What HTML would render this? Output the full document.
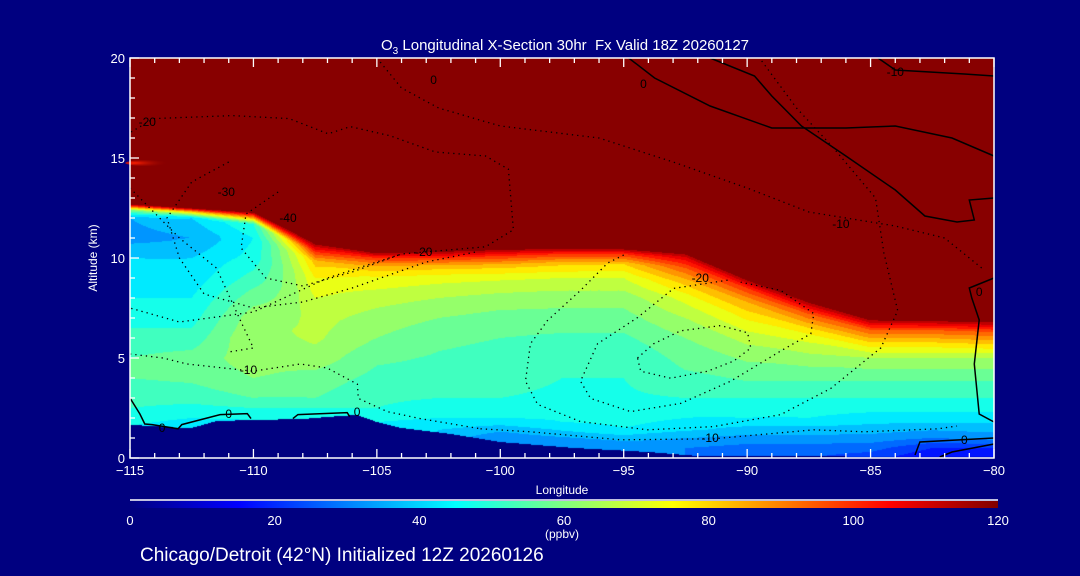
<!DOCTYPE html>
<html><head><meta charset="utf-8"><style>
html,body{margin:0;padding:0;background:#000080;width:1080px;height:576px;overflow:hidden}
#wrap{position:relative;width:1080px;height:576px}
canvas{position:absolute;left:130px;top:58px}
svg{position:absolute;left:0;top:0}
text{font-family:"Liberation Sans",sans-serif;fill:#fff}
</style></head><body>
<div id="wrap">
<canvas id="field" width="864" height="400"></canvas>
<svg id="ov" width="1080" height="576">
<defs><linearGradient id="cb" x1="0" x2="1" y1="0" y2="0"></linearGradient>
<radialGradient id="streak" cx="0.2" cy="0.5" r="0.8"><stop offset="0" stop-color="#ff2000"/><stop offset="1" stop-color="#880000" stop-opacity="0"/></radialGradient></defs>
<text x="565" y="50" font-size="15" text-anchor="middle">O<tspan font-size="10" dy="4">3</tspan><tspan dy="-4"> Longitudinal X-Section 30hr&#160; Fx Valid 18Z 20260127</tspan></text>
<text transform="translate(97,258) rotate(-90)" font-size="12" text-anchor="middle">Altitude (km)</text>
<text x="562" y="494" font-size="12" text-anchor="middle">Longitude</text>
<text x="562" y="538" font-size="12" text-anchor="middle">(ppbv)</text>
<text x="140" y="561" font-size="19">Chicago/Detroit (42°N) Initialized 12Z 20260126</text>
<g id="g"></g>
</svg>
</div>
<script>
// ===== data =====
const colLons = [-115,-112.5,-110,-107.5,-105,-102.5,-100,-97.5,-95,-92.5,-90,-87.5,-85,-82.5,-80];
const tropAlt = [12.7,12.5,12.3,10.8,10.3,10.4,10.5,10.55,10.5,10.3,9.0,7.9,7.0,6.95,6.9];
const prof0 = [[0,45],[1.6,45],[2,48],[3,52],[4,55],[5,55],[6,52],[7,48],[8,45],[9,42],[10,40],[11,33],[12,35],[12.4,60],[12.7,120]];
const prof1 = [[0,40],[1.5,40],[2,45],[3,52],[4,56],[5,57],[6,52],[7,48],[8,45],[9,42],[10,40],[11,35],[12,40],[12.3,80],[12.5,120]];
const prof2 = [[0,45],[1.9,45],[2.5,50],[3,55],[4,60],[5,63],[6,65],[7,63],[8,58],[9,52],[10,47],[11,45],[11.7,50],[12,85],[12.3,120]];
const prof3 = [[0,45],[2,45],[2.5,50],[3,55],[4,58],[5,63],[6,66],[7,67],[8,70],[9,75],[9.8,82],[10.3,100],[10.8,120]];
const prof4 = [[0,45],[1.8,45],[2.5,50],[3.5,52],[5,56],[6,60],[7,63],[8,67],[9,74],[9.6,85],[10,100],[10.3,120]];
const prof5 = [[0,38],[1.4,40],[2,45],[3,50],[4,53],[6,56],[7,60],[8,65],[9,72],[9.6,83],[10,100],[10.4,120]];
const prof6 = [[0,30],[1,30],[1.5,38],[2,45],[3,50],[4,52],[6,55],[7,58],[8,63],[9,71],[9.6,82],[10.1,100],[10.5,120]];
const prof7 = [[0,30],[0.8,30],[1.2,38],[1.8,45],[3,49],[4,50],[6,54],[7,58],[8,62],[9,70],[9.7,81],[10.2,100],[10.55,120]];
const prof8 = [[0,30],[0.6,30],[1,38],[1.5,45],[2.5,49],[4,50],[5,50],[6,54],[7,58],[8,62],[9,70],[9.7,80],[10.2,100],[10.5,120]];
const prof9 = [[0,30],[0.5,30],[1,35],[1.5,42],[2.5,48],[3.5,52],[5,57],[6,60],[7,65],[8,72],[8.8,82],[9.5,95],[10,108],[10.3,120]];
const prof10 = [[0,25],[0.5,28],[1,33],[2,45],[3,50],[4,56],[5,61],[6,67],[7,76],[7.8,85],[8.5,100],[9.0,120]];
const prof11 = [[0,25],[0.5,28],[1,33],[2,45],[3,50],[4,56],[5,63],[6,72],[6.5,80],[7.2,95],[7.9,120]];
const prof12 = [[0,22],[0.5,27],[1,33],[2,43],[3,50],[4,56],[5,65],[5.7,78],[6.4,95],[7.0,120]];
const prof13 = [[0,15],[0.5,20],[1,30],[2,43],[3,50],[4,56],[5,65],[5.7,78],[6.4,95],[6.95,120]];
const prof14 = [[0,15],[0.5,20],[1,32],[2,43],[3,50],[4,56],[5,65],[5.6,78],[6.3,95],[6.9,120]];
const profiles = [prof0,prof1,prof2,prof3,prof4,prof5,prof6,prof7,prof8,prof9,prof10,prof11,prof12,prof13,prof14];
const terrainLons = [-115,-114,-113,-112.5,-111.5,-110,-108,-106.5,-105.8,-105,-104,-102,-100,-97,-94,-92,-80];
const terrainAlt  = [1.65,1.6,1.5,1.5,1.85,1.9,1.95,2.1,2.15,1.8,1.5,1.2,0.8,0.5,0.3,0.1,0.05];
const xTicks = [-115,-110,-105,-100,-95,-90,-85,-80];
const yTicks = [0,5,10,15,20];
const cbTicks = [0,20,40,60,80,100,120];
// contours (lon, alt)
const cSolidA = [[-94.8,20],[-93.75,19.0],[-91.5,17.6],[-89.0,16.5],[-86.0,16.5],[-84.0,16.6],[-81.7,16.0],[-80,15.1]];
const cSolidB = [[-91.5,20],[-89.7,19.1],[-89.0,18.1],[-87.8,16.6],[-86.0,15.1],[-84.0,13.4],[-82.8,12.1],[-81.5,11.8],[-80.8,11.9],[-81.0,12.9],[-80,13.0]];
const cSolidC = [[-84.7,20],[-84.0,19.4],[-81.2,19.2],[-80,19.1]];
const cSolidD = [[-80,9.0],[-81.0,8.5],[-80.9,8.0],[-80.6,6.9],[-80.8,4.7],[-80.6,2.2],[-80,1.8]];
const cSolidE = [[-80,1.0],[-83.0,0.8],[-83.2,0.15]];
const cSolidF = [[-80,0.7],[-81.7,0.3],[-82.2,0.05]];
const cSolidG = [[-115,3.0],[-114.6,2.2],[-114.4,1.7],[-114.1,1.67],[-113.05,1.46],[-112.9,1.67],[-111.35,2.17],[-110.25,2.22],[-110.1,1.97]];
const cSolidH = [[-108.4,1.97],[-108.2,2.17],[-106.2,2.27],[-106.1,2.07]];
const cDotInner = [[-94.44,5.0],[-93.79,5.71],[-92.69,6.36],[-91.07,6.62],[-89.98,6.26],[-89.85,5.5],[-90.54,4.85],[-91.6,4.34],[-93.1,3.99],[-94.31,4.34],[-94.44,5.0]];
const cDotMid = [[-90.79,8.89],[-92.98,8.48],[-94.44,7.02],[-96.06,5.71],[-96.75,3.84],[-96.34,2.98],[-94.72,2.32],[-92.69,2.73],[-90.67,3.84],[-88.64,5.35],[-87.42,6.21],[-87.3,7.22],[-88.64,8.38],[-90.26,8.79]];
const cDotOuter = [[-95.0,10.15],[-95.65,9.75],[-96.75,8.38],[-98.09,6.87],[-98.78,5.71],[-98.98,3.84],[-98.49,2.68],[-96.75,1.82],[-94.03,1.41],[-91.36,1.57],[-88.64,2.17],[-86.61,3.48],[-84.58,5.51],[-83.9,7.37],[-84.46,10.25],[-84.8,13],[-86.5,15.5],[-88,17.5],[-89.5,20]];
const cDotLow = [[-100.8,1.46],[-98.78,1.31],[-95.13,0.91],[-91.36,0.96],[-87.3,1.41],[-85.27,1.31],[-82.27,1.46],[-81.5,1.6]];
const cDotLeft = [[-115,5.2],[-113.66,5.0],[-112.69,4.7],[-110.01,4.34],[-108.1,4.7],[-107.01,4.5],[-105.79,3.69],[-105.75,2.98],[-104.58,2.32],[-103.24,1.97],[-100.8,1.46]];
const cDotUpper = [[-114.96,16.3],[-114.03,16.97],[-110.86,17.12],[-108.55,16.97],[-106.97,16.21],[-106.08,16.57],[-104.46,16.11],[-102.63,15.3],[-100.6,15.1],[-99.67,14.44],[-99.47,11.41],[-100.6,10.56],[-104,10.2],[-107,9.0],[-110,7.3],[-113,6.8],[-115,7.5]];
const cDotTop = [[-105,20],[-104,18.5],[-102.5,17.5],[-100,16.6],[-96,16.0],[-93,14.8],[-90,13.5],[-87.5,12.3],[-84,11.6],[-82,11.0],[-80.5,9.5]];
const cDotW1 = [[-111,14.8],[-112.5,13.8],[-113.5,12],[-113,10],[-112,8.2],[-110,7.5],[-108,7.8],[-106,8.5],[-103,9.8],[-101,10.3]];
const cDotW2 = [[-109,13.3],[-110.3,12.2],[-110.5,10.5],[-109.5,9],[-108,8.6],[-106,9.3],[-104,10.2]];
const cDotW3 = [[-115,13.5],[-113.8,12],[-113,11],[-111.5,9.5],[-110.5,6.8],[-110,5.5],[-111,5.3]];
const contourLabels = [["0",-94.2,18.7],["-10",-84,19.3],["-10",-86.2,11.7],["-10",-91.5,1.0],["-10",-110.2,4.4],["-20",-91.9,9.0],["-20",-103.1,10.3],["-20",-114.3,16.8],["-30",-111.1,13.3],["-40",-108.6,12.0],["0",-113.7,1.5],["0",-111.0,2.2],["0",-105.8,2.3],["0",-81.2,0.9],["0",-80.6,8.3],["0",-102.7,18.9]];

// ===== scales =====
const X0=130,X1=994,Y0=458,PX=20;
function xs(lon){return X0+(lon+115)/35*(X1-X0);}
function ys(a){return Y0-a*PX;}
function jet(v){const t=Math.max(0,Math.min(1,v/120));const c=x=>Math.round(255*Math.max(0,Math.min(1,x)));
 return [c(1.5-Math.abs(4*t-3)),c(1.5-Math.abs(4*t-2)),c(1.5-Math.abs(4*t-1))];}
function interp1(xa,ya,x){if(x<=xa[0])return ya[0];for(let i=1;i<xa.length;i++){if(x<=xa[i]){const f=(x-xa[i-1])/(xa[i]-xa[i-1]);return ya[i-1]+f*(ya[i]-ya[i-1]);}}return ya[ya.length-1];}
function prof(k,a){if(a<=k[0][0])return k[0][1];for(let i=1;i<k.length;i++){if(a<=k[i][0]){const f=(a-k[i-1][0])/(k[i][0]-k[i-1][0]);return k[i-1][1]+f*(k[i][1]-k[i-1][1]);}}return 120;}

// ===== field =====
const cv=document.getElementById('field'),ctx=cv.getContext('2d');
const W=cv.width,H=cv.height,img=ctx.createImageData(W,H);
for(let px=0;px<W;px++){
 const lon=-115+(px+0.5)/W*35;
 let i=Math.min(colLons.length-2,Math.floor((lon+115)/2.5));const f=(lon-colLons[i])/(colLons[i+1]-colLons[i]);
 const tr=tropAlt[i]*(1-f)+tropAlt[i+1]*f;
 const ter=interp1(terrainLons,terrainAlt,lon);
 for(let py=0;py<H;py++){
  const a=(H-py-0.5)/PX;let col;
  if(a<ter){col=[0,0,128];}
  else{const s=a/tr;let v=(1-f)*prof(profiles[i],s*tropAlt[i])+f*prof(profiles[i+1],s*tropAlt[i+1]);
   v=Math.min(120,Math.floor(v/5)*5+2.5);col=jet(v);if(v>=117)col=[136,0,0];}
  const o=(py*W+px)*4;img.data[o]=col[0];img.data[o+1]=col[1];img.data[o+2]=col[2];img.data[o+3]=255;}
}
ctx.putImageData(img,0,0);

// ===== overlay =====
const NS='http://www.w3.org/2000/svg',g=document.getElementById('g');
function mk(tag,at,parent){const e=document.createElementNS(NS,tag);for(const k in at)e.setAttribute(k,at[k]);(parent||g).appendChild(e);return e;}
const st=mk('ellipse',{cx:xs(-114.3),cy:ys(14.75),rx:22,ry:3,fill:'url(#streak)'});


function line(pts,dotted,name){const d=pts.map((p,j)=>(j?'L':'M')+xs(p[0]).toFixed(1)+' '+ys(p[1]).toFixed(1)).join(' ');
 const e=mk('path',{d:d,fill:'none',stroke:'#000','stroke-width':dotted?1.3:1.5,'stroke-dasharray':dotted?'1.3 4':'none'});
 
 }
[[cSolidA,'a'],[cSolidB,'b'],[cSolidC,'c'],[cSolidD,'d'],[cSolidE,'e'],[cSolidF,'f'],[cSolidG,'g'],[cSolidH,'h']].forEach(c=>line(c[0],false,'solid-contour-'+c[1]));
[[cDotInner,'inner'],[cDotMid,'mid'],[cDotOuter,'outer'],[cDotLow,'low'],[cDotLeft,'left'],[cDotUpper,'upper'],[cDotTop,'top'],[cDotW1,'w1'],[cDotW2,'w2'],[cDotW3,'w3']].forEach(c=>line(c[0],true,'dotted-contour-'+c[1]));
contourLabels.forEach(l=>{const t=mk('text',{x:xs(l[1]),y:ys(l[2])+4,'font-size':12,'text-anchor':'middle',style:'fill:#000'});t.textContent=l[0];
 
 });
const fr=mk('rect',{x:X0,y:ys(20),width:X1-X0,height:ys(0)-ys(20),fill:'none',stroke:'#fff','stroke-width':1.5});


for(let lon=-115;lon<=-80;lon++){const maj=lon%5===0,L=maj?9:5;
 const t1=mk('line',{x1:xs(lon),x2:xs(lon),y1:ys(0),y2:ys(0)-L,stroke:'#fff','stroke-width':1.3});
 
 
 const t2=mk('line',{x1:xs(lon),x2:xs(lon),y1:ys(20),y2:ys(20)+L,stroke:'#fff','stroke-width':1.3});
 
 }
for(let a=0;a<=20;a++){const maj=a%5===0,L=maj?9:5;
 const t=mk('line',{x1:X0,x2:X0+L,y1:ys(a),y2:ys(a),stroke:'#fff','stroke-width':1.3});
 
 }
xTicks.forEach(v=>{const t=mk('text',{x:xs(v),y:475,'font-size':13,'text-anchor':'middle'});t.textContent=v<0?'\u2212'+Math.abs(v):v;
 
 });
yTicks.forEach(v=>{const t=mk('text',{x:125,y:ys(v)+5,'font-size':13,'text-anchor':'end'});t.textContent=v;
 
 });
const CB0=130,CB1=998;
const gr=document.getElementById('cb');
for(let k=0;k<=24;k++){const c=jet(k*5);mk('stop',{offset:k/24,'stop-color':'rgb('+c+')'},gr);}
const cbl=mk('line',{x1:CB0,x2:CB1,y1:500,y2:500,stroke:'#fff','stroke-width':1.5});


const cbr=mk('rect',{x:CB0,y:501,width:CB1-CB0,height:7,fill:'url(#cb)'});


cbTicks.forEach(v=>{const t=mk('text',{x:CB0+v/120*(CB1-CB0),y:525,'font-size':13,'text-anchor':'middle'});t.textContent=v;
 
 });
</script>
</body></html>
